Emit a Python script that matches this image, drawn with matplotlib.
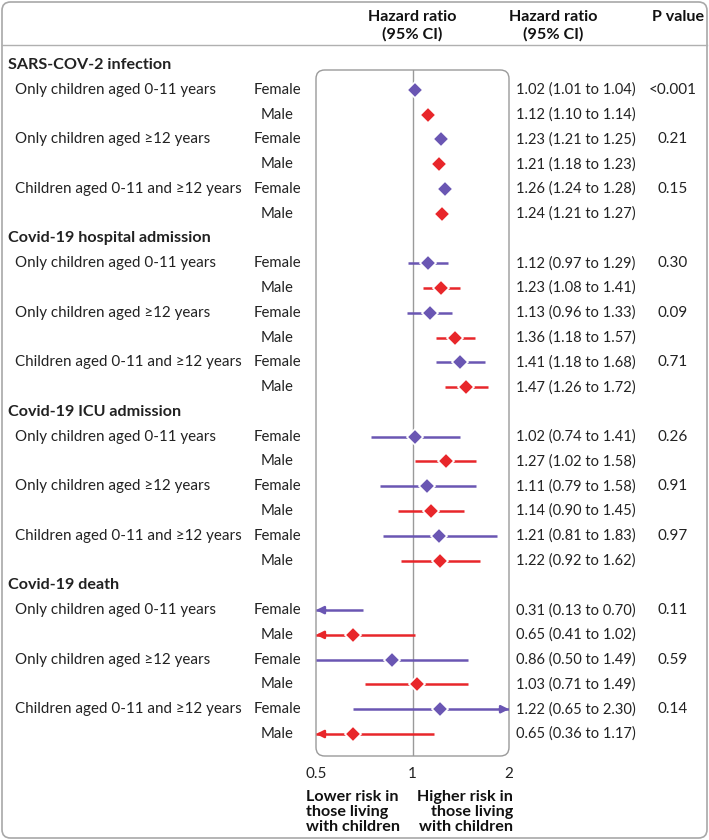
import numpy as np
import matplotlib
matplotlib.use("Agg")
import matplotlib.pyplot as plt
from matplotlib.patches import FancyBboxPatch
from matplotlib.transforms import blended_transform_factory

plt.rcParams['font.family'] = ['Lato', 'DejaVu Sans']

# data
sections = ['SARS-COV-2 infection', 'Covid-19 hospital admission',
            'Covid-19 ICU admission', 'Covid-19 death']
groups = ['Only children aged 0-11 years', 'Only children aged \u226512 years',
          'Children aged 0-11 and \u226512 years']
sexes = ['Female', 'Male']

hr = [1.02, 1.12, 1.23, 1.21, 1.26, 1.24,
      1.12, 1.23, 1.13, 1.36, 1.41, 1.47,
      1.02, 1.27, 1.11, 1.14, 1.21, 1.22,
      0.31, 0.65, 0.86, 1.03, 1.22, 0.65]
lo = [1.01, 1.10, 1.21, 1.18, 1.24, 1.21,
      0.97, 1.08, 0.96, 1.18, 1.18, 1.26,
      0.74, 1.02, 0.79, 0.90, 0.81, 0.92,
      0.13, 0.41, 0.50, 0.71, 0.65, 0.36]
hi = [1.04, 1.14, 1.25, 1.23, 1.28, 1.27,
      1.29, 1.41, 1.33, 1.57, 1.68, 1.72,
      1.41, 1.58, 1.58, 1.45, 1.83, 1.62,
      0.70, 1.02, 1.49, 1.49, 2.30, 1.17]
pvals = ['<0.001', '0.21', '0.15',
         '0.30', '0.09', '0.71',
         '0.26', '0.91', '0.97',
         '0.11', '0.59', '0.14']

purple = '#6a56b3'
red = '#e8262a'
grey = '#9a9a9a'
txt = '#222222'
xmin, xmax = 0.5, 2.0

W, H = 709, 840
fig = plt.figure(figsize=(W / 100, H / 100), dpi=100)

def fx(px):
    return px / W

# row positions: section header rows then 6 data rows each
ax = fig.add_axes([fx(316), 1 - 756 / H, fx(509 - 316), (756 - 70) / H])
pitch = (734 - 65) / 27
ax.set_xscale('log')
ax.set_xlim(xmin, xmax)
ax.set_ylim((756 - 65) / pitch, (70 - 65) / pitch)
for s in ax.spines.values():
    s.set_visible(False)
ax.set_xticks([0.5, 1, 2])
ax.set_xticklabels(['0.5', '1', '2'])
ax.minorticks_off()
ax.tick_params(axis='x', length=0, pad=8, labelsize=11, labelcolor=txt)
ax.set_yticks([])

box = FancyBboxPatch((0, 0), 1, 1, boxstyle='round,pad=0,rounding_size=0.045',
                     transform=ax.transAxes, fill=False, ec=grey, lw=1.0,
                     mutation_aspect=193 / 686, clip_on=False)
ax.add_patch(box)
ax.axvline(1, color=grey, lw=1.0, zorder=1)

tr = blended_transform_factory(fig.transFigure, ax.transData)

def row_text(x, y, s, **kw):
    t = fig.text(x, 0, s, transform=tr, va='center', color=txt, **kw)
    t.set_y(y)
    return t

k = 0
for si, sec in enumerate(sections):
    ys = si * 7
    row_text(fx(8), ys, sec, fontsize=11.6, fontweight='bold', ha='left')
    for gi, grp in enumerate(groups):
        for sx, sex in enumerate(sexes):
            y = ys + 1 + gi * 2 + sx
            col = purple if sx == 0 else red
            if sx == 0:
                row_text(fx(15), y, grp, fontsize=10.9, ha='left')
                row_text(fx(673), y, pvals[k // 2], fontsize=11, ha='center')
            row_text(fx(277), y, sex, fontsize=10.7, ha='center')
            row_text(fx(516), y, f'{hr[k]:.2f} ({lo[k]:.2f} to {hi[k]:.2f})',
                     fontsize=10.5, ha='left')
            l = max(lo[k], xmin)
            h = min(hi[k], xmax)
            ax.plot([l, h], [y, y], color=col, lw=1.8, solid_capstyle='butt', zorder=2)
            if lo[k] < xmin:
                ax.annotate('', xy=(xmin, y), xytext=(xmin * 1.07, y),
                            arrowprops=dict(arrowstyle='-|>', color=col, lw=1.8,
                                            mutation_scale=11, shrinkA=0, shrinkB=0))
            if hi[k] > xmax:
                ax.annotate('', xy=(xmax, y), xytext=(xmax / 1.07, y),
                            arrowprops=dict(arrowstyle='-|>', color=col, lw=1.8,
                                            mutation_scale=11, shrinkA=0, shrinkB=0))
            if xmin <= hr[k] <= xmax:
                ax.plot(hr[k], y, marker='D', ms=8, color=col, mec='white',
                        mew=1.2, zorder=3)
            k += 1

# header
fig.text(fx(412), 1 - 26 / H, 'Hazard ratio\n(95% CI)', ha='center', va='center',
         fontsize=11.6, fontweight='bold', color='#111111', linespacing=1.3)
fig.text(fx(553), 1 - 26 / H, 'Hazard ratio\n(95% CI)', ha='center', va='center',
         fontsize=11.6, fontweight='bold', color='#111111', linespacing=1.3)
fig.text(fx(704), 1 - 17 / H, 'P value', ha='right', va='center',
         fontsize=11.6, fontweight='bold', color='#111111')
fig.add_artist(plt.Line2D([fx(2), fx(707)], [1 - 45 / H, 1 - 45 / H],
                          color='#b0b0b0', lw=1.0))

# footer
fig.text(fx(306), 1 - 812 / H, 'Lower risk in\nthose living\nwith children',
         ha='left', va='center', fontsize=11.6, fontweight='bold',
         color='#111111', linespacing=1.08)
fig.text(fx(513), 1 - 812 / H, 'Higher risk in\nthose living\nwith children',
         ha='right', va='center', fontsize=11.6, fontweight='bold',
         color='#111111', linespacing=1.08, multialignment='right')

# outer border
outer = FancyBboxPatch((fx(2), 2 / H), fx(705), 836 / H,
                       boxstyle='round,pad=0,rounding_size=0.012',
                       transform=fig.transFigure, fill=False, ec='#a8a8a8',
                       lw=1.2, mutation_aspect=W / H)
fig.add_artist(outer)

fig.savefig('out.png', dpi=100)
